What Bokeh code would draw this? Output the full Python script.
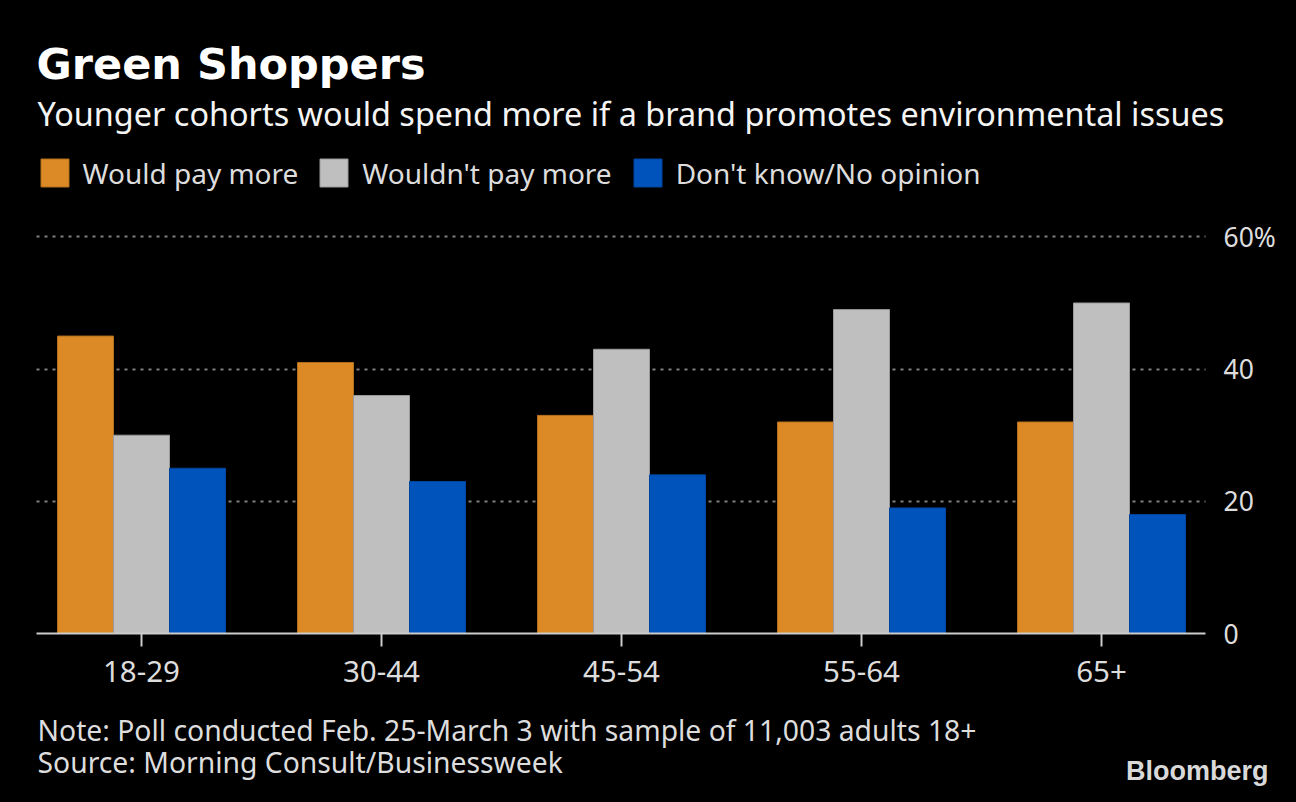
from bokeh.plotting import figure
from bokeh.models import (Range1d, FixedTicker, Label, Legend, LegendItem,
                          ColumnDataSource, Grid)
from bokeh.transform import dodge
from bokeh.embed import file_html
from bokeh.resources import INLINE

# ---- data ----
ages = ["18-29", "30-44", "45-54", "55-64", "65+"]
would_pay_more = [45, 41, 33, 32, 32]
wouldnt_pay_more = [30, 36, 43, 49, 50]
dont_know = [25, 23, 24, 19, 18]
series_names = ["Would pay more", "Wouldn't pay more", "Don't know/No opinion"]
y_ticks = [0, 20, 40, 60]
y_tick_labels = ["0", "20", "40", "60%"]

title_text = "Green Shoppers"
subtitle_text = "Younger cohorts would spend more if a brand promotes environmental issues"
note_text = "Note: Poll conducted Feb. 25-March 3 with sample of 11,003 adults 18+"
source_text = "Source: Morning Consult/Businessweek"
logo_text = "Bloomberg"

# ---- style / layout ----
colors = ["#DB8A25", "#BFBFBF", "#0053BA"]
edge_colors = ["#B06E1E", "#9A9A9A", "#00459C"]
FONT = "Noto Sans"
TEXT = "#dddddd"
W, H = 1296, 802
PX_X = 240.0          # pixels per category
PX_Y = 6.61           # pixels per percentage point
X0_PX, BASE_PX = 141, 633   # pixel position of first category / zero line
PLOT_L, PLOT_R = 36, 1205
xa0 = (PLOT_L - X0_PX) / PX_X
xa1 = (PLOT_R - X0_PX) / PX_X

p = figure(width=W, height=H, output_backend="svg", toolbar_location=None,
           x_range=Range1d(-X0_PX / PX_X, (W - X0_PX) / PX_X),
           y_range=Range1d(-(H - BASE_PX) / PX_Y, BASE_PX / PX_Y),
           min_border_left=0, min_border_right=0, min_border_top=0, min_border_bottom=0,
           y_axis_location="right")
p.min_border = 0
p.background_fill_color = "black"
p.border_fill_color = "black"
p.outline_line_color = None

src = ColumnDataSource(dict(x=list(range(len(ages))), would=would_pay_more,
                            wouldnt=wouldnt_pay_more, dk=dont_know))
bw = 56 / PX_X
renderers = []
for i, (col, off) in enumerate(zip(["would", "wouldnt", "dk"], [-bw, 0, bw])):
    r = p.vbar(x=dodge("x", off, range=p.x_range), top=col, width=bw, source=src,
               fill_color=colors[i], line_color=edge_colors[i], line_width=1)
    renderers.append(r)

# x axis at zero line
xa = p.xaxis[0]
xa.fixed_location = 0
xa.bounds = (xa0, xa1)
xa.ticker = FixedTicker(ticks=list(range(len(ages))))
xa.major_label_overrides = {i: a for i, a in enumerate(ages)}
xa.axis_line_color = "#cccccc"
xa.axis_line_width = 2
xa.major_tick_line_color = "#cccccc"
xa.major_tick_line_width = 2
xa.major_tick_in = 0
xa.major_tick_out = 13
xa.minor_tick_line_color = None
xa.major_label_text_font = FONT
xa.major_label_text_font_size = "29.5px"
xa.major_label_text_color = TEXT
xa.major_label_standoff = 14

# y axis at right edge of plotting area
ya = p.yaxis[0]
ya.fixed_location = xa1
ya.ticker = FixedTicker(ticks=y_ticks)
ya.major_label_overrides = {t: l for t, l in zip(y_ticks, y_tick_labels)}
ya.axis_line_color = None
ya.major_tick_line_color = None
ya.minor_tick_line_color = None
ya.major_tick_in = 0
ya.major_tick_out = 0
ya.major_label_standoff = 18
ya.major_label_text_font = FONT
ya.major_label_text_font_size = "26.5px"
ya.major_label_text_color = TEXT

p.xgrid.grid_line_color = None
if "cross_bounds" in Grid.properties():
    p.ygrid.ticker = FixedTicker(ticks=y_ticks[1:])
    p.ygrid.cross_bounds = (xa0, xa1)
    p.ygrid.grid_line_color = "#808080"
    p.ygrid.grid_line_dash = "3 5"
    p.ygrid.grid_line_width = 2
else:
    p.ygrid.grid_line_color = None
    ya.major_tick_line_color = "#808080"
    ya.major_tick_line_dash = "3 5"
    ya.major_tick_line_width = 2
    ya.major_tick_in = int(PLOT_R - PLOT_L)

legend = Legend(items=[LegendItem(label=n, renderers=[r]) for n, r in zip(series_names, renderers)],
                orientation="horizontal", location=(36.5, H - 191.5),
                glyph_width=35, glyph_height=35, label_standoff=11, spacing=18,
                padding=0, margin=0, border_line_color=None, background_fill_alpha=0,
                label_text_font=FONT, label_text_font_size="28px", label_text_color=TEXT,
                label_height=35)
p.add_layout(legend)

# texts (baselines measured from the bottom of the canvas)
p.add_layout(Label(x=36, y=H - 63, x_units="screen", y_units="screen", text=title_text,
                   text_font="DejaVu Sans", text_font_style="bold", text_font_size="43px",
                   text_color="white", text_baseline="alphabetic"))
p.add_layout(Label(x=37, y=H - 112, x_units="screen", y_units="screen", text=subtitle_text,
                   text_font=FONT, text_font_size="32.4px", text_color="#f4f4f4",
                   text_baseline="alphabetic"))
p.add_layout(Label(x=37, y=H - 729, x_units="screen", y_units="screen", text=note_text,
                   text_font=FONT, text_font_size="28.3px", text_color=TEXT,
                   text_baseline="alphabetic"))
p.add_layout(Label(x=37, y=H - 761, x_units="screen", y_units="screen", text=source_text,
                   text_font=FONT, text_font_size="28.3px", text_color=TEXT,
                   text_baseline="alphabetic"))
p.add_layout(Label(x=1268, y=H - 770, x_units="screen", y_units="screen", text=logo_text,
                   text_font="Liberation Sans", text_font_style="bold", text_font_size="27px",
                   text_color="#d9d9d9", text_align="right", text_baseline="alphabetic"))

html = file_html(p, INLINE, title="Green Shoppers")
html = html.replace("<head>", "<head><style>html,body{background:#000;}</style>", 1)
open("out.html", "w").write(html)
